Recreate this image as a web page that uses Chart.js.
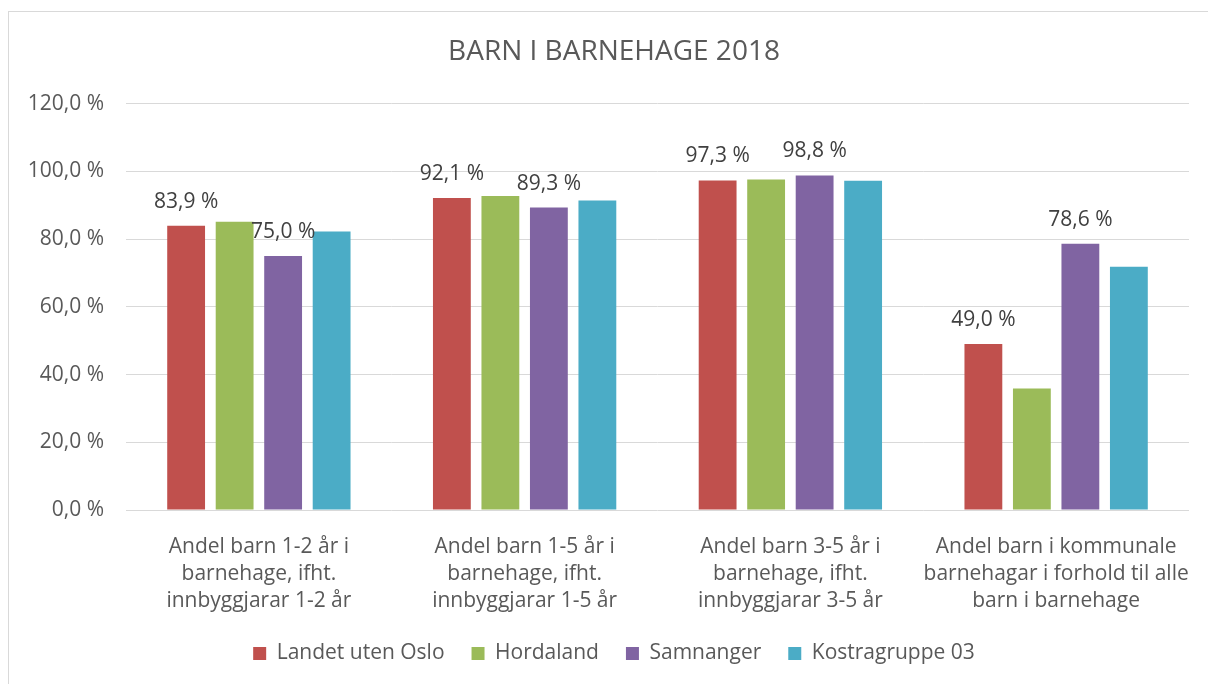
<!DOCTYPE html>
<html>
<head>
<meta charset="utf-8">
<script src="https://cdn.jsdelivr.net/npm/chart.js@4"></script>
<style>
  html, body { margin: 0; padding: 0; background: #fff; overflow: hidden; }
  #frame {
    position: absolute; left: 8px; top: 11px;
    width: 1212px; height: 700px;
    border: 1px solid #d9d9d9; box-sizing: border-box;
  }
  #wrap { position: absolute; left: 0; top: 0; width: 1210px; height: 672px; }
</style>
</head>
<body>
<div id="frame"><div id="wrap"><canvas id="chart"></canvas></div></div>
<script>
// values, in percent
const categories = [
    ['Andel barn 1-2 år i', 'barnehage, ifht.', 'innbyggjarar 1-2 år'],
    ['Andel barn 1-5 år i', 'barnehage, ifht.', 'innbyggjarar 1-5 år'],
    ['Andel barn 3-5 år i', 'barnehage, ifht.', 'innbyggjarar 3-5 år'],
    ['Andel barn i kommunale', 'barnehagar i forhold til alle', 'barn i barnehage']
];
const seriesNames = ['Landet uten Oslo', 'Hordaland', 'Samnanger', 'Kostragruppe 03'];
const landetValues = [83.9, 92.1, 97.3, 49.0];
const hordalandValues = [85.1, 92.7, 97.6, 35.9];
const samnangerValues = [75.0, 89.3, 98.8, 78.6];
const kostraValues = [82.2, 91.4, 97.2, 71.8];
const yTicks = [0, 20, 40, 60, 80, 100, 120];

const colors = ['#C0504D', '#9BBB59', '#8064A2', '#4BACC6'];
const labelledSeries = [true, false, true, false]; // only these carry value labels
const textColor = '#595959';
const fontFamily = '"Open Sans", "Liberation Sans", sans-serif';

function pct(v) {
    return v.toFixed(1).replace('.', ',') + ' %';
}

// draws the value labels above the bars
const valueLabels = {
    id: 'valueLabels',
    afterDatasetsDraw(chart) {
        const ctx = chart.ctx;
        ctx.save();
        ctx.font = '21px ' + fontFamily;
        ctx.fillStyle = '#404040';
        ctx.textAlign = 'center';
        ctx.textBaseline = 'middle';
        chart.data.datasets.forEach((ds, i) => {
            if (!labelledSeries[i]) return;
            chart.getDatasetMeta(i).data.forEach((bar, j) => {
                ctx.fillText(pct(ds.data[j]), bar.x, bar.y - 24);
            });
        });
        ctx.restore();
    }
};

const allValues = [landetValues, hordalandValues, samnangerValues, kostraValues];

new Chart(document.getElementById('chart'), {
    type: 'bar',
    data: {
        labels: categories,
        datasets: seriesNames.map((name, i) => ({
            label: name,
            data: allValues[i],
            backgroundColor: colors[i],
            categoryPercentage: 0.73,
            barPercentage: 0.78
        }))
    },
    options: {
        responsive: true,
        maintainAspectRatio: false,
        animation: false,
        layout: { padding: { left: 0, right: 0, bottom: 10 } },
        scales: {
            x: {
                grid: { display: false },
                border: { display: false },
                ticks: {
                    color: textColor,
                    font: { family: fontFamily, size: 21, lineHeight: '27px' },
                    padding: 16,
                    maxRotation: 0,
                    autoSkip: false
                },
                afterFit(scale) { scale.height = 106; }
            },
            y: {
                min: 0,
                max: 120,
                afterBuildTicks(scale) { scale.ticks = yTicks.map(v => ({ value: v })); },
                grid: { color: '#d9d9d9', lineWidth: 1, drawTicks: false },
                border: { display: false },
                ticks: {
                    color: textColor,
                    font: { family: fontFamily, size: 21 },
                    padding: 22,
                    callback: v => pct(v)
                },
                afterFit(scale) { scale.width = 117; }
            },
            // empty right-hand spacer so the title stays centred on the whole frame
            spacer: {
                position: 'right',
                min: 0,
                max: 120,
                grid: { display: false },
                border: { display: false },
                ticks: { display: false },
                afterFit(scale) { scale.width = 30; }
            }
        },
        plugins: {
            title: {
                display: true,
                text: 'BARN I BARNEHAGE 2018',
                color: textColor,
                font: { family: fontFamily, size: 28, weight: 'normal' },
                padding: { top: 23, bottom: 35 }
            },
            legend: {
                position: 'bottom',
                labels: {
                    color: textColor,
                    font: { family: fontFamily, size: 21 },
                    boxWidth: 13,
                    boxHeight: 13,
                    padding: 27
                }
            },
            tooltip: { enabled: false }
        }
    },
    plugins: [valueLabels]
});
</script>
</body>
</html>
